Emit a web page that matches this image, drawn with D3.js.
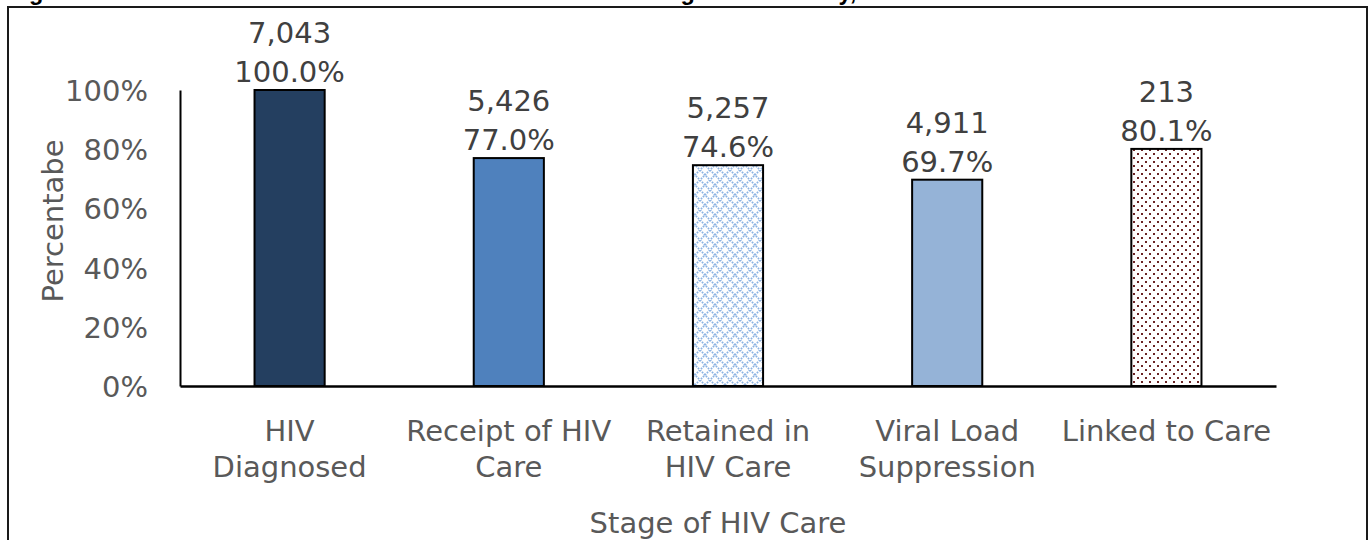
<!DOCTYPE html>
<html>
<head>
<meta charset="utf-8">
<script src="https://cdn.jsdelivr.net/npm/d3@7"></script>
<style>
  body { margin: 0; background: #fff; }
  svg { display: block; }
  text { font-family: "DejaVu Sans", sans-serif; }
</style>
</head>
<body>
<script>
// values
var categories = [
  ["HIV", "Diagnosed"],
  ["Receipt of HIV", "Care"],
  ["Retained in", "HIV Care"],
  ["Viral Load", "Suppression"],
  ["Linked to Care"]
];
var counts = [7043, 5426, 5257, 4911, 213];
var percents = [100.0, 77.0, 74.6, 69.7, 80.1];
var yTicks = [0, 20, 40, 60, 80, 100];
var fills = ["#243f60", "#4f81bd", "url(#lattice)", "#95b3d7", "url(#dots)"];

var W = 1369, H = 540;
var plotLeft = 180, plotRight = 1276, plotTop = 90, plotBottom = 386;

var svg = d3.select("body").append("svg")
  .attr("width", W)
  .attr("height", H);

var defs = svg.append("defs");

var lat = defs.append("pattern")
  .attr("id", "lattice")
  .attr("patternUnits", "userSpaceOnUse")
  .attr("width", 10).attr("height", 10);
lat.append("rect").attr("width", 10).attr("height", 10).attr("fill", "#fff");
lat.append("path")
  .attr("d", "M0,0L10,10M10,0L0,10")
  .attr("stroke", "#8db3e2")
  .attr("stroke-width", 1.8)
  .attr("stroke-dasharray", "1.6,1.2");

var dots = defs.append("pattern")
  .attr("id", "dots")
  .attr("patternUnits", "userSpaceOnUse")
  .attr("width", 8).attr("height", 8);
dots.append("rect").attr("width", 8).attr("height", 8).attr("fill", "#fff");
dots.append("rect").attr("x", 1).attr("y", 1).attr("width", 2).attr("height", 2).attr("fill", "#6b2424");
dots.append("rect").attr("x", 5).attr("y", 5).attr("width", 2).attr("height", 2).attr("fill", "#6b2424");

// title, cut off at the top of the picture
svg.append("text")
  .attr("x", 8)
  .attr("y", 0)
  .style("font-family", "'Liberation Sans', Arial, sans-serif")
  .style("font-weight", "bold")
  .style("font-size", "23.5px")
  .attr("fill", "#000")
  .text("Figure 1. HIV Care Continuum Outcomes for Residents Living in the County, 2019");

// outer frame
svg.append("rect")
  .attr("x", 8).attr("y", 7)
  .attr("width", 1359).attr("height", 560)
  .attr("fill", "none")
  .attr("stroke", "#1a1a1a")
  .attr("stroke-width", 2);

var x = d3.scaleBand()
  .domain(d3.range(categories.length))
  .range([plotLeft, plotRight])
  .paddingInner(0.68)
  .paddingOuter(0.34);

var y = d3.scaleLinear()
  .domain([0, 100])
  .range([plotBottom, plotTop]);

var yaxis = d3.axisLeft(y)
  .tickValues(yTicks)
  .tickSize(0)
  .tickSizeOuter(0)
  .tickPadding(32)
  .tickFormat(function(d) { return d + "%"; });

var gy = svg.append("g")
  .attr("transform", "translate(" + plotLeft + ",0)")
  .call(yaxis);
gy.select(".domain").attr("stroke", "#000").attr("stroke-width", 2);
gy.selectAll(".tick text")
  .attr("fill", "#595959")
  .style("font-size", "29px")
  .style("font-family", "'DejaVu Sans', sans-serif")
  .attr("dy", "0.36em");

var bars = svg.append("g");
bars.selectAll("rect")
  .data(percents)
  .enter().append("rect")
  .attr("x", function(d, i) { return x(i); })
  .attr("y", function(d) { return y(d); })
  .attr("width", x.bandwidth())
  .attr("height", function(d) { return y(0) - y(d); })
  .attr("fill", function(d, i) { return fills[i]; })
  .attr("stroke", "#000")
  .attr("stroke-width", 2);

var labels = svg.append("g");
labels.selectAll("text.count")
  .data(counts)
  .enter().append("text")
  .attr("class", "count")
  .attr("x", function(d, i) { return x(i) + x.bandwidth() / 2; })
  .attr("y", function(d, i) { return y(percents[i]) - 47; })
  .attr("text-anchor", "middle")
  .attr("fill", "#404040")
  .style("font-size", "29px")
  .text(function(d) { return d3.format(",")(d); });
labels.selectAll("text.pct")
  .data(percents)
  .enter().append("text")
  .attr("class", "pct")
  .attr("x", function(d, i) { return x(i) + x.bandwidth() / 2; })
  .attr("y", function(d) { return y(d) - 8; })
  .attr("text-anchor", "middle")
  .attr("fill", "#404040")
  .style("font-size", "29px")
  .text(function(d) { return d.toFixed(1) + "%"; });

var xaxis = d3.axisBottom(x)
  .tickSize(0)
  .tickSizeOuter(0)
  .tickFormat("");

var gx = svg.append("g")
  .attr("transform", "translate(0," + plotBottom + ")")
  .call(xaxis);
gx.select(".domain").attr("stroke", "#000").attr("stroke-width", 2.5);
gx.selectAll(".tick").each(function(d) {
  var t = d3.select(this).append("text")
    .attr("text-anchor", "middle")
    .attr("fill", "#595959")
    .style("font-size", "29px")
    .style("font-family", "'DejaVu Sans', sans-serif");
  categories[d].forEach(function(line, k) {
    t.append("tspan")
      .attr("x", 0)
      .attr("y", 55 + k * 36)
      .text(line);
  });
});

svg.append("text")
  .attr("transform", "translate(63,221) rotate(-90)")
  .attr("text-anchor", "middle")
  .attr("fill", "#595959")
  .style("font-size", "29px")
  .text("Percentabe");

svg.append("text")
  .attr("x", 718)
  .attr("y", 533)
  .attr("text-anchor", "middle")
  .attr("fill", "#595959")
  .style("font-size", "29px")
  .text("Stage of HIV Care");
</script>
</body>
</html>
